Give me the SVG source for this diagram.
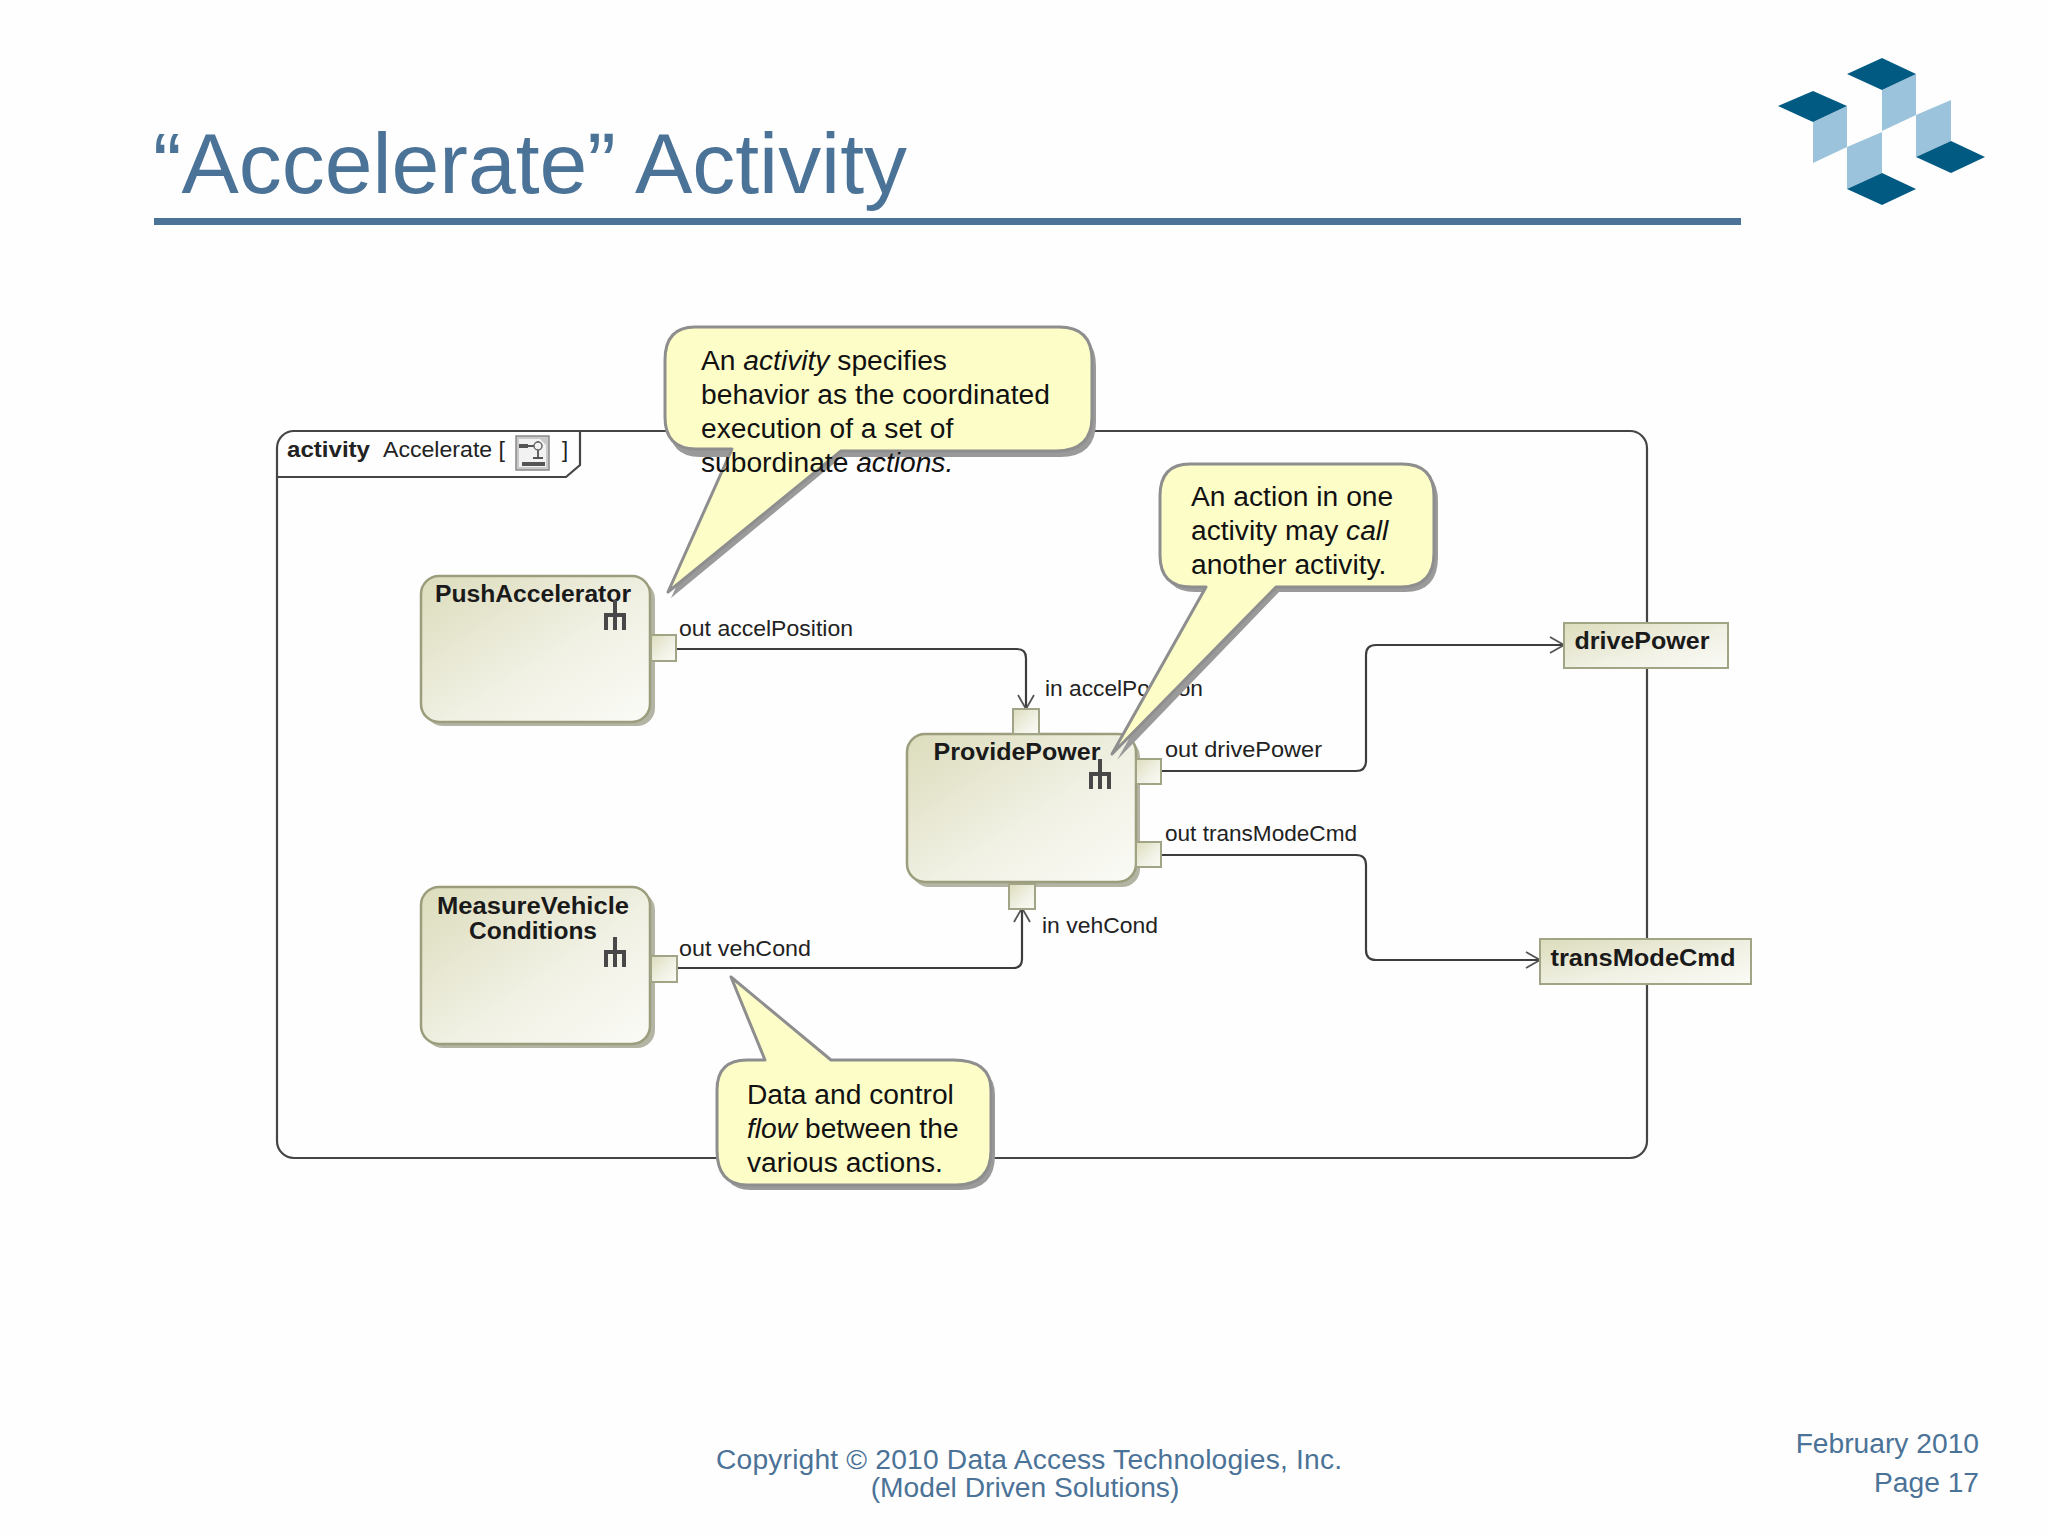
<svg xmlns="http://www.w3.org/2000/svg" width="2048" height="1536" viewBox="0 0 2048 1536">
<style>
text{font-family:"Liberation Sans",Arial,sans-serif}
.head{fill:#4b7297}
.call{font-size:28.2px;fill:#111}
.pin{font-size:22px;fill:#222}
.name{font-size:23px;font-weight:bold;fill:#1a1a1a}
.note{fill:#fdfdc8;stroke:#8e8e8e;stroke-width:3;stroke-linejoin:round}
.shadow{fill:#9a9a9a}
.act{fill:url(#g);stroke:#9b9d7c;stroke-width:2.5}
.actshadow{fill:#b4b4a4}
.port{fill:url(#g);stroke:#a2a486;stroke-width:2}
.flow{fill:none;stroke:#3d3d3d;stroke-width:2.2}
.fork{fill:none;stroke:#484848;stroke-width:4}
.dark{fill:#005a82}
.light{fill:#9cc3dc}
.foot{font-size:28.2px}
</style>
<defs>
<linearGradient id="g" x1="0" y1="0" x2="1" y2="1"><stop offset="0" stop-color="#dcdcbc"/><stop offset="0.55" stop-color="#f0f0e3"/><stop offset="1" stop-color="#fbfbf7"/></linearGradient>
<marker id="arr" viewBox="0 0 16 18" refX="15" refY="9" markerWidth="16" markerHeight="18" markerUnits="userSpaceOnUse" orient="auto"><path d="M1 1L15 9L1 17" fill="none" stroke="#555" stroke-width="1.8"/></marker>
<g id="forkIcon"><path class="fork" d="M0 -15V0M-9 15V0H9V15M0 0V15"/></g>
</defs>
<rect width="2048" height="1536" fill="#fefefe"/>

<g id="title">
<text x="153" y="193" font-size="85" class="head" textLength="754" lengthAdjust="spacingAndGlyphs">“Accelerate” Activity</text>
<rect x="154" y="218" width="1587" height="7" class="head"/>
</g>

<g id="logo">
<polygon class="light" points="1882,90 1916,74 1916,115 1882,131"/>
<polygon class="light" points="1813,122 1847,106 1847,147 1813,163"/>
<polygon class="light" points="1847,147 1882,132 1882,173 1847,189"/>
<polygon class="light" points="1916,115 1951,100 1951,141 1916,157"/>
<polygon class="dark" points="1847,74 1882,58 1916,74 1882,90"/>
<polygon class="dark" points="1778,106 1813,91 1847,106 1813,122"/>
<polygon class="dark" points="1847,189 1882,173 1916,189 1882,205"/>
<polygon class="dark" points="1916,157 1951,141 1985,157 1951,173"/>
</g>

<g id="frame">
<rect x="277" y="431" width="1370" height="727" rx="17" fill="#fefefe" stroke="#454545" stroke-width="2.2"/>
<path d="M277 477H566L580 465V431" fill="none" stroke="#454545" stroke-width="2.2"/>
<text x="287" y="457" font-size="22" font-weight="bold" fill="#222" textLength="83" lengthAdjust="spacingAndGlyphs">activity</text>
<text x="383" y="457" font-size="22" fill="#222" textLength="122" lengthAdjust="spacingAndGlyphs">Accelerate [</text>
<text x="562" y="457" font-size="22" fill="#222">]</text>
<g id="frameIcon">
<rect x="516" y="436" width="33" height="34" fill="#c9c9c9" stroke="#8a8a8a" stroke-width="1.5"/>
<path d="M519 439H540L546 445V467H519Z" fill="#f2f2f2"/>
<rect x="519" y="444" width="9" height="4" fill="#555"/>
<path d="M528 446H534M538 441V458M533 458H543" stroke="#555" stroke-width="1.8" fill="none"/>
<circle cx="538" cy="446" r="4" fill="#f2f2f2" stroke="#666" stroke-width="1.5"/>
<rect x="522" y="462" width="23" height="4" fill="#555"/>
</g>
</g>

<g id="connectors">
<path class="flow" marker-end="url(#arr)" d="M676 649H1017Q1026 649 1026 658V709"/>
<path class="flow" marker-end="url(#arr)" d="M677 968H1013Q1022 968 1022 959V908"/>
<path class="flow" marker-end="url(#arr)" d="M1161 771H1356Q1366 771 1366 761V655Q1366 645 1376 645H1564"/>
<path class="flow" marker-end="url(#arr)" d="M1161 855H1356Q1366 855 1366 865V950Q1366 960 1376 960H1540"/>
</g>

<g id="node-pushaccelerator">
<rect class="actshadow" x="425" y="581" width="230" height="145" rx="18"/>
<rect class="act" x="421" y="576" width="229" height="146" rx="18"/>
<rect class="port" x="651" y="635" width="25" height="26"/>
<text class="name" x="533" y="602" text-anchor="middle" textLength="196" lengthAdjust="spacingAndGlyphs">PushAccelerator</text>
<use href="#forkIcon" x="615" y="615"/>
<text class="pin" x="679" y="636" textLength="174" lengthAdjust="spacingAndGlyphs">out accelPosition</text>
</g>

<g id="node-measurevehicle">
<rect class="actshadow" x="425" y="892" width="230" height="156" rx="18"/>
<rect class="act" x="421" y="887" width="229" height="157" rx="18"/>
<rect class="port" x="651" y="956" width="26" height="26"/>
<text class="name" x="533" y="914" text-anchor="middle" textLength="192" lengthAdjust="spacingAndGlyphs">MeasureVehicle</text>
<text class="name" x="533" y="939" text-anchor="middle" textLength="128" lengthAdjust="spacingAndGlyphs">Conditions</text>
<use href="#forkIcon" x="615" y="952"/>
<text class="pin" x="679" y="956" textLength="132" lengthAdjust="spacingAndGlyphs">out vehCond</text>
</g>

<g id="node-providepower">
<rect class="actshadow" x="911" y="739" width="229" height="148" rx="18"/>
<rect class="act" x="907" y="734" width="229" height="148" rx="18"/>
<rect class="port" x="1013" y="709" width="26" height="25"/>
<rect class="port" x="1136" y="759" width="25" height="25"/>
<rect class="port" x="1136" y="842" width="25" height="25"/>
<rect class="port" x="1009" y="884" width="26" height="25"/>
<text class="name" x="1017" y="760" text-anchor="middle" textLength="167" lengthAdjust="spacingAndGlyphs">ProvidePower</text>
<use href="#forkIcon" x="1100" y="774"/>
<text class="pin" x="1045" y="696" textLength="158" lengthAdjust="spacingAndGlyphs">in accelPosition</text>
<text class="pin" x="1165" y="757" textLength="157" lengthAdjust="spacingAndGlyphs">out drivePower</text>
<text class="pin" x="1165" y="841" textLength="192" lengthAdjust="spacingAndGlyphs">out transModeCmd</text>
<text class="pin" x="1042" y="933" textLength="116" lengthAdjust="spacingAndGlyphs">in vehCond</text>
</g>

<g id="node-drivepower">
<rect class="port" x="1564" y="623" width="164" height="45"/>
<text class="name" x="1642" y="649" text-anchor="middle" textLength="135" lengthAdjust="spacingAndGlyphs">drivePower</text>
</g>
<g id="node-transmodecmd">
<rect class="port" x="1540" y="939" width="211" height="45"/>
<text class="name" x="1643" y="966" text-anchor="middle" textLength="185" lengthAdjust="spacingAndGlyphs">transModeCmd</text>
</g>

<g id="note-activity">
<path class="shadow" d="M699 333H1063Q1096 333 1096 366V422Q1096 457 1060 457H842L671 598L735 457H700Q669 457 669 424V366Q669 333 699 333Z"/>
<path class="note" d="M695 327H1059Q1092 327 1092 360V417Q1092 451 1056 451H841L668 592L732 449H696Q665 449 665 417V360Q665 327 695 327Z"/>
<text class="call" x="701" y="370">An <tspan font-style="italic">activity</tspan> specifies</text>
<text class="call" x="701" y="404" textLength="349">behavior as the coordinated</text>
<text class="call" x="701" y="438">execution of a set of</text>
<text class="call" x="701" y="472">subordinate <tspan font-style="italic">actions.</tspan></text>
</g>

<g id="note-call">
<path class="shadow" d="M1194 469H1406Q1438 469 1438 501V557Q1438 592 1405 592H1279L1117 760L1212 592H1195Q1164 592 1164 560V501Q1164 469 1194 469Z"/>
<path class="note" d="M1190 464H1402Q1434 464 1434 496V553Q1434 587 1401 587H1276L1112 754L1206 587H1191Q1160 587 1160 555V496Q1160 464 1190 464Z"/>
<text class="call" x="1191" y="506">An action in one</text>
<text class="call" x="1191" y="540">activity may <tspan font-style="italic">call</tspan></text>
<text class="call" x="1191" y="574">another activity.</text>
</g>

<g id="note-flow">
<path class="shadow" d="M751 1065H957Q995 1065 995 1095V1155Q995 1190 960 1190H751Q721 1190 721 1155V1095Q721 1065 751 1065Z"/>
<path class="note" d="M747 1060H765L731 977L831 1060H953Q991 1060 991 1090V1150Q991 1185 956 1185H747Q717 1185 717 1150V1090Q717 1060 747 1060Z"/>
<text class="call" x="747" y="1104">Data and control</text>
<text class="call" x="747" y="1138"><tspan font-style="italic">flow</tspan> between the</text>
<text class="call" x="747" y="1172">various actions.</text>
</g>

<g id="footer">
<text class="head foot" x="1029" y="1469" text-anchor="middle" textLength="626">Copyright © 2010 Data Access Technologies, Inc.</text>
<text class="head foot" x="1025" y="1497" text-anchor="middle">(Model Driven Solutions)</text>
<text class="head foot" x="1979" y="1453" text-anchor="end">February 2010</text>
<text class="head foot" x="1979" y="1492" text-anchor="end">Page 17</text>
</g>
</svg>
